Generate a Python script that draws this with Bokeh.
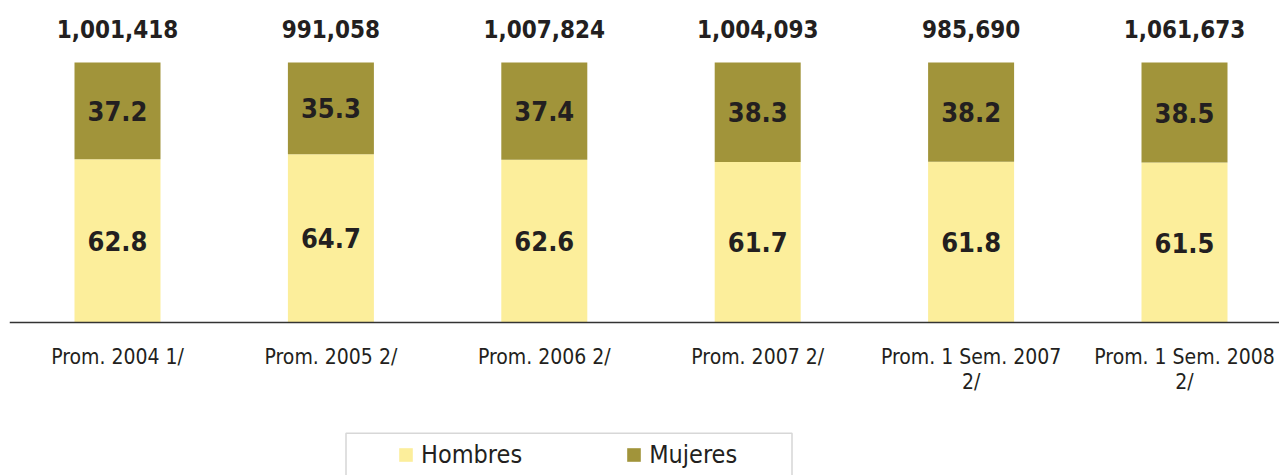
from bokeh.plotting import figure
from bokeh.models import Range1d, Span, Legend, LegendItem, BoxAnnotation, ColumnDataSource
from bokeh.embed import file_html
from bokeh.resources import INLINE
from bokeh.core.properties import value

categories = ["Prom. 2004 1/", "Prom. 2005 2/", "Prom. 2006 2/", "Prom. 2007 2/",
              "Prom. 1 Sem. 2007\n2/", "Prom. 1 Sem. 2008\n2/"]
hombres = [62.8, 64.7, 62.6, 61.7, 61.8, 61.5]
mujeres = [37.2, 35.3, 37.4, 38.3, 38.2, 38.5]
totales = ["1,001,418", "991,058", "1,007,824", "1,004,093", "985,690", "1,061,673"]

C_H = "#FCEE9B"
C_M = "#A1943A"
TXT = "#231F20"
FONT = "DejaVu Sans Condensed"

W, H = 1279, 475
LEFT = 9                 # frame starts 9 px from the left (axis line start)
PX_PER_CAT = 213.4
X0 = 117.0 - LEFT        # first bar centre, in frame pixels
PX_PER_PCT = 2.6
BASE_PX = 322.0

FW = W - LEFT
x_start = -X0 / PX_PER_CAT
x_end = (FW - X0) / PX_PER_CAT
y_end = BASE_PX / PX_PER_PCT
y_start = -(H - BASE_PX) / PX_PER_PCT

xs = list(range(len(categories)))
src = ColumnDataSource(dict(
    x=xs,
    hombres=hombres,
    mujeres=mujeres,
    hy=[h / 2 for h in hombres],
    my=[h + m / 2 for h, m in zip(hombres, mujeres)],
    ty=[h + m for h, m in zip(hombres, mujeres)],
    hl=[f"{h:.1f}" for h in hombres],
    ml=[f"{m:.1f}" for m in mujeres],
    tl=totales,
    cat=categories,
    zero=[0] * len(categories),
))

p = figure(width=W, height=H, x_range=Range1d(x_start, x_end), y_range=Range1d(y_start, y_end),
           output_backend="svg", toolbar_location=None, x_axis_location=None, y_axis_location=None,
           min_border=0, min_border_left=LEFT, outline_line_color=None)
p.grid.visible = False
p.background_fill_color = "white"

rs = p.vbar_stack(["hombres", "mujeres"], x="x", width=0.403, color=[C_H, C_M],
                  line_color=None, source=src)

p.add_layout(Span(location=0, dimension="width", line_color="#333333", line_width=1.5))

common = dict(source=src, text_font=value(FONT), text_color=TXT, text_align="center")
p.text(x="x", y="hy", text="hl", text_font_style="bold", text_font_size="27px",
       text_baseline="middle", **common)
p.text(x="x", y="my", text="ml", text_font_style="bold", text_font_size="27px",
       text_baseline="middle", **common)
p.text(x="x", y="ty", text="tl", text_font_style="bold", text_font_size="24px",
       text_baseline="middle", y_offset=-34, **common)
p.text(x="x", y="zero", text="cat", text_font_size="21px", text_baseline="top",
       y_offset=22, text_line_height=1.05, **common)

def xpx(px):
    return (px - LEFT - X0) / PX_PER_CAT

def ypx(py):
    return (BASE_PX - py) / PX_PER_PCT

p.add_layout(BoxAnnotation(left=xpx(345.5), right=xpx(791.5), top=ypx(432.7), bottom=ypx(530),
                           fill_alpha=0, line_color="#7a7a7a", line_width=1.5))

legend = Legend(items=[LegendItem(label="Hombres", renderers=[rs[0]]),
                       LegendItem(label="Mujeres", renderers=[rs[1]])],
                orientation="horizontal", location=(397 - LEFT, 6), padding=0, margin=0,
                spacing=103, glyph_width=17, glyph_height=17, label_standoff=7,
                label_text_font=FONT, label_text_font_size="25px", label_text_color=TXT,
                border_line_alpha=0, background_fill_alpha=0)
p.add_layout(legend)

open("out.html", "w").write(file_html(p, INLINE))
